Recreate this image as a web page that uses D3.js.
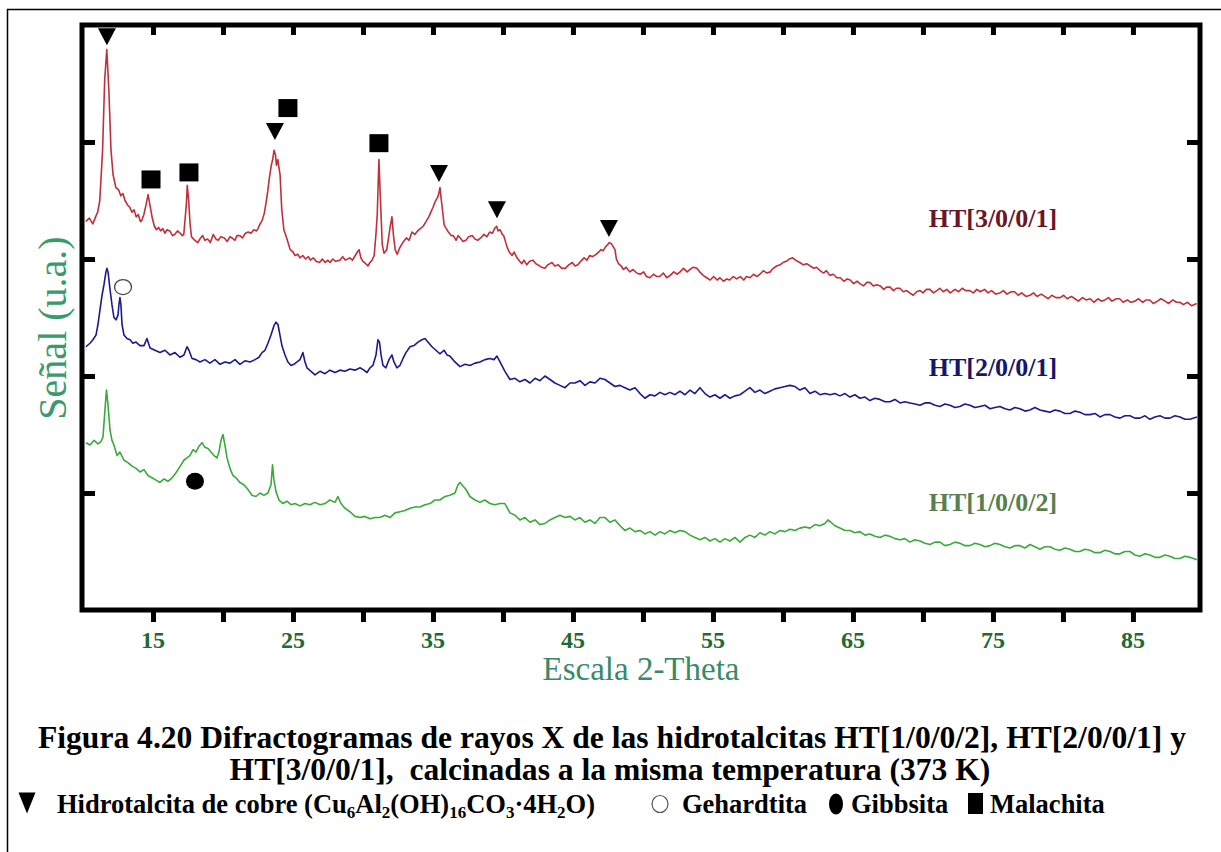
<!DOCTYPE html>
<html>
<head>
<meta charset="utf-8">
<script src="https://cdn.jsdelivr.net/npm/d3@7"></script>
<style>
  html, body { margin: 0; padding: 0; background: #fff; }
  svg { display: block; }
</style>
</head>
<body>
<svg id="chart" width="1221" height="852"></svg>
<script>
// ---- Diffractogram data: [2-theta (deg), intensity (a.u.)] ----
const ht3001 = [
  [10.2,332],[10.45,335],[10.7,330],[10.9,336],[11.05,340],[11.2,350],[11.4,393],[11.55,453],[11.7,479],[11.85,444],
  [12.0,393],[12.15,372],[12.35,361],[12.55,359],[12.7,354],[12.85,356],[13.0,350],[13.2,346],[13.35,344],[13.5,340],
  [13.65,342],[13.8,336],[13.95,338],[14.1,332],[14.2,333],[14.35,338],[14.5,346],[14.65,355],[14.8,345],[14.95,335],
  [15.1,328],[15.25,325],[15.4,327],[15.55,324],[15.7,326],[15.85,322],[16.0,325],[16.2,324],[16.4,320],[16.55,321],
  [16.75,324],[16.95,322],[17.1,320],[17.2,321],[17.3,335],[17.38,346],[17.45,363],[17.55,350],[17.65,330],[17.75,319],
  [17.9,317],[18.0,316],[18.2,314],[18.4,318],[18.55,320],[18.7,316],[18.9,317],[19.1,314],[19.3,321],[19.5,317],
  [19.65,316],[19.85,319],[20.1,318],[20.3,315],[20.5,319],[20.65,318],[20.85,316],[21.0,320],[21.2,320],[21.4,318],
  [21.6,322],[21.8,323],[22.0,322],[22.2,325],[22.4,324],[22.5,326],[22.65,330],[22.8,333],[22.95,339],[23.05,346],
  [23.2,358],[23.3,368],[23.45,380],[23.55,385],[23.65,393],[23.75,389],[23.82,380],[23.92,385],[24.0,378],[24.08,372],
  [24.2,342],[24.35,325],[24.55,318],[24.8,308],[25.0,306],[25.15,303],[25.35,304],[25.5,301],[25.7,303],[25.9,300],
  [26.1,302],[26.25,299],[26.45,301],[26.65,298],[26.9,297],[27.1,300],[27.3,297],[27.5,299],[27.65,297],[27.85,300],
  [28.05,298],[28.35,299],[28.55,302],[28.75,299],[29.05,301],[29.25,299],[29.45,303],[29.6,306],[29.72,308],[29.85,301],
  [30.0,298],[30.2,296],[30.35,294],[30.5,297],[30.65,299],[30.8,303],[30.92,320],[31.02,338],[31.14,385],[31.25,350],
  [31.38,312],[31.5,305],[31.7,308],[31.85,320],[31.95,328],[32.07,336],[32.18,320],[32.3,308],[32.45,304],[32.6,309],
  [32.75,312],[32.9,315],[33.1,318],[33.3,316],[33.5,323],[33.7,321],[33.9,324],[34.1,326],[34.3,328],[34.5,332],
  [34.7,336],[34.85,340],[35.0,344],[35.15,349],[35.3,352],[35.4,355],[35.5,361],[35.6,350],[35.68,342],[35.8,329],
  [35.95,326],[36.1,323],[36.3,320],[36.45,320],[36.65,316],[36.8,320],[36.95,318],[37.15,315],[37.35,316],[37.55,319],
  [37.8,320],[38.0,317],[38.2,316],[38.4,318],[38.65,321],[38.85,319],[39.05,323],[39.25,322],[39.4,326],[39.55,328],
  [39.65,324],[39.8,325],[39.95,321],[40.05,320],[40.2,314],[40.3,310],[40.45,306],[40.65,303],[40.8,306],[41.0,301],
  [41.2,298],[41.35,296],[41.5,299],[41.7,295],[41.9,298],[42.15,299],[42.35,296],[42.5,295],[42.75,293],[43.0,292],
  [43.2,295],[43.5,297],[43.7,294],[43.95,295],[44.2,292],[44.45,292],[44.7,295],[44.95,297],[45.15,294],[45.35,295],
  [45.55,298],[45.8,301],[46.0,299],[46.2,303],[46.4,302],[46.65,304],[46.85,306],[47.0,308],[47.15,307],[47.3,310],
  [47.45,312],[47.6,314],[47.75,313],[47.85,311],[48.0,308],[48.1,300],[48.25,296],[48.45,294],[48.6,291],[48.8,293],
  [49.05,289],[49.3,291],[49.55,288],[49.8,287],[50.05,289],[50.25,285],[50.5,284],[50.75,287],[51.0,285],[51.2,285],
  [51.45,288],[51.7,284],[51.95,286],[52.2,289],[52.45,287],[52.65,289],[52.9,292],[53.15,289],[53.35,291],[53.6,293],
  [53.85,292],[54.05,289],[54.3,286],[54.55,284],[54.8,282],[55.05,285],[55.3,282],[55.5,284],[55.75,281],[56.0,283],
  [56.2,282],[56.45,285],[56.7,283],[56.95,285],[57.2,282],[57.4,285],[57.65,284],[57.9,287],[58.15,285],[58.35,287],
  [58.6,290],[58.85,288],[59.1,289],[59.3,292],[59.55,294],[59.8,295],[60.0,297],[60.25,298],[60.45,300],[60.7,301],
  [60.9,299],[61.2,297],[61.45,295],[61.7,296],[61.95,294],[62.2,292],[62.4,293],[62.65,290],[62.9,288],[63.1,290],
  [63.35,286],[63.6,287],[63.85,284],[64.1,284],[64.35,281],[64.6,283],[64.8,282],[65.05,279],[65.3,281],[65.5,279],
  [65.75,277],[66.0,280],[66.2,280],[66.45,277],[66.7,278],[66.95,277],[67.2,274],[67.4,276],[67.65,276],[67.9,273],
  [68.1,275],[68.35,275],[68.6,272],[68.85,273],[69.05,271],[69.3,269],[69.55,272],[69.8,273],[70.0,271],[70.25,274],
  [70.5,274],[70.75,271],[71.0,273],[71.2,275],[71.45,272],[71.7,274],[71.95,271],[72.3,274],[72.55,272],[72.8,275],
  [73.05,273],[73.35,273],[73.6,271],[73.85,274],[74.1,272],[74.4,274],[74.65,271],[74.9,273],[75.2,270],[75.5,271],
  [75.75,273],[76.0,270],[76.3,272],[76.55,272],[76.8,269],[77.05,271],[77.35,268],[77.65,269],[77.9,271],[78.15,268],
  [78.45,270],[78.7,268],[78.95,266],[79.2,269],[79.5,267],[79.8,267],[80.05,269],[80.3,266],[80.6,268],[80.85,266],
  [81.1,264],[81.4,267],[81.65,265],[81.95,266],[82.2,263],[82.5,266],[82.75,264],[83.0,265],[83.25,267],[83.5,264],
  [83.8,266],[84.05,266],[84.3,263],[84.6,265],[84.85,263],[85.15,264],[85.4,266],[85.7,263],[85.95,265],[86.2,265],
  [86.45,262],[86.75,264],[87.0,266],[87.3,264],[87.55,262],[87.85,265],[88.1,263],[88.35,263],[88.6,261],[88.9,263],
  [89.2,260],[89.55,262]
];

const ht2001 = [
  [10.21,225],[10.5,228],[10.71,231],[10.93,235],[11.07,244],[11.21,256],[11.36,269],[11.5,278],[11.64,289],[11.71,292],
  [11.79,289],[11.93,274],[12.07,261],[12.21,250],[12.36,248],[12.5,252],[12.57,261],[12.64,267],[12.71,261],[12.79,244],
  [12.93,235],[13.14,232],[13.36,231],[13.57,228],[13.79,229],[14.07,226],[14.36,226],[14.57,232],[14.79,224],[15.14,222],
  [15.5,220],[15.86,222],[16.21,218],[16.57,220],[16.93,216],[17.21,218],[17.43,225],[17.57,222],[17.79,215],[18.07,214],
  [18.36,212],[18.71,214],[19.07,211],[19.43,214],[19.79,210],[20.14,212],[20.5,211],[20.86,214],[21.21,210],[21.57,213],
  [21.93,212],[22.29,214],[22.57,216],[22.79,220],[23.0,222],[23.21,228],[23.43,235],[23.64,243],[23.79,246],[23.93,244],
  [24.07,235],[24.21,226],[24.43,218],[24.64,212],[24.86,209],[25.07,210],[25.29,212],[25.5,214],[25.64,218],[25.71,220],
  [25.86,212],[26.0,207],[26.29,204],[26.57,201],[26.93,204],[27.29,202],[27.64,205],[28.0,203],[28.36,205],[28.71,204],
  [29.07,206],[29.43,205],[29.79,207],[30.07,205],[30.29,203],[30.5,207],[30.71,209],[30.93,218],[31.07,231],[31.18,229],
  [31.29,218],[31.43,209],[31.64,207],[31.86,214],[32.07,218],[32.21,212],[32.43,207],[32.64,209],[32.86,215],[33.07,220],
  [33.36,225],[33.64,226],[33.93,229],[34.21,231],[34.43,232],[34.64,229],[34.93,225],[35.21,222],[35.5,219],[35.79,222],
  [36.0,218],[36.21,217],[36.57,212],[36.93,208],[37.29,210],[37.64,209],[38.0,211],[38.36,212],[38.71,214],[39.07,215],
  [39.36,214],[39.57,217],[39.79,212],[40.14,204],[40.5,197],[40.86,198],[41.21,195],[41.57,197],[41.93,194],[42.29,198],
  [42.64,196],[43.0,200],[43.36,197],[43.71,194],[44.07,192],[44.43,190],[44.79,194],[45.14,194],[45.5,196],[45.86,192],
  [46.21,195],[46.57,194],[46.93,198],[47.29,197],[47.64,194],[48.0,191],[48.36,192],[48.71,190],[49.07,188],[49.43,190],
  [49.79,185],[50.14,181],[50.5,184],[50.86,183],[51.21,186],[51.57,184],[51.93,186],[52.29,184],[52.64,187],[53.0,184],
  [53.36,188],[53.71,185],[54.07,190],[54.43,185],[54.79,182],[55.14,184],[55.5,181],[55.86,184],[56.21,181],[56.57,183],
  [56.93,184],[57.29,187],[57.64,190],[58.0,186],[58.36,188],[58.71,185],[59.07,187],[59.43,189],[59.79,190],[60.14,191],
  [60.5,192],[60.86,191],[61.21,188],[61.57,190],[61.93,185],[62.29,187],[62.64,184],[63.0,185],[63.36,184],[63.71,185],
  [64.07,183],[64.43,185],[64.79,182],[65.14,184],[65.5,181],[65.86,182],[66.21,179],[66.57,181],[66.93,180],[67.29,178],
  [67.64,178],[68.0,180],[68.36,177],[68.71,178],[69.07,177],[69.43,176],[69.79,175],[70.14,177],[70.5,177],[70.86,175],
  [71.21,174],[71.57,176],[71.93,175],[72.29,173],[72.64,174],[73.0,176],[73.36,175],[73.71,173],[74.07,174],[74.43,175],
  [74.79,172],[75.14,173],[75.5,174],[75.86,172],[76.21,171],[76.57,173],[76.93,172],[77.29,170],[77.64,171],[78.0,173],
  [78.36,171],[78.71,170],[79.07,169],[79.43,171],[79.79,170],[80.14,168],[80.5,168],[80.86,170],[81.21,169],[81.57,167],
  [81.93,167],[82.29,168],[82.64,165],[83.0,167],[83.36,167],[83.71,165],[84.07,164],[84.43,166],[84.79,166],[85.14,164],
  [85.5,164],[85.86,166],[86.21,163],[86.57,165],[86.93,166],[87.29,164],[87.64,164],[88.0,166],[88.36,165],[88.71,163],
  [89.07,163],[89.57,165]
];

const ht1002 = [
  [10.21,143],[10.5,141],[10.79,145],[11.07,142],[11.29,144],[11.43,148],[11.57,171],[11.68,188],[11.79,175],[11.93,154],
  [12.07,145],[12.21,141],[12.43,132],[12.64,135],[12.93,128],[13.21,126],[13.5,123],[13.79,121],[14.07,118],[14.36,120],
  [14.64,115],[14.93,113],[15.21,111],[15.5,109],[15.79,112],[16.07,110],[16.36,113],[16.57,116],[16.79,120],[17.0,124],
  [17.21,128],[17.43,130],[17.64,132],[17.86,137],[18.07,135],[18.29,140],[18.5,143],[18.71,139],[18.93,138],[19.14,135],
  [19.36,132],[19.57,130],[19.71,135],[19.86,145],[20.0,150],[20.14,141],[20.29,130],[20.5,121],[20.71,115],[20.93,113],
  [21.21,109],[21.5,107],[21.79,103],[22.07,98],[22.36,97],[22.64,100],[22.93,98],[23.21,100],[23.43,107],[23.54,124],
  [23.64,111],[23.79,101],[24.0,94],[24.29,91],[24.57,93],[24.86,90],[25.14,91],[25.5,89],[25.86,91],[26.21,90],
  [26.57,92],[26.93,90],[27.29,91],[27.64,94],[28.0,92],[28.21,97],[28.43,91],[28.71,87],[29.07,84],[29.43,80],
  [29.79,79],[30.14,80],[30.5,78],[30.86,79],[31.21,79],[31.57,81],[31.93,79],[32.29,83],[32.64,84],[33.0,85],
  [33.36,87],[33.71,88],[34.07,88],[34.43,90],[34.79,91],[35.14,94],[35.5,94],[35.86,97],[36.21,98],[36.57,100],
  [36.79,107],[36.93,109],[37.14,106],[37.36,103],[37.64,97],[38.0,94],[38.36,92],[38.71,94],[39.07,91],[39.43,90],
  [39.79,91],[40.14,91],[40.5,83],[40.86,81],[41.21,77],[41.57,79],[41.93,75],[42.29,77],[42.64,73],[43.0,74],
  [43.36,77],[43.71,79],[44.07,81],[44.43,79],[44.79,80],[45.14,77],[45.5,79],[45.86,75],[46.21,77],[46.57,74],
  [46.93,79],[47.29,79],[47.64,75],[48.0,77],[48.36,72],[48.71,68],[49.07,70],[49.43,67],[49.79,68],[50.14,65],
  [50.5,67],[50.86,64],[51.21,67],[51.57,65],[51.93,68],[52.29,66],[52.64,68],[53.0,67],[53.36,64],[53.71,62],
  [54.07,60],[54.43,62],[54.79,59],[55.14,61],[55.5,58],[55.86,61],[56.21,59],[56.57,62],[56.93,58],[57.29,62],
  [57.64,64],[58.0,62],[58.36,66],[58.71,64],[59.07,67],[59.43,65],[59.79,68],[60.14,67],[60.5,69],[60.86,68],
  [61.21,70],[61.57,71],[61.93,70],[62.29,73],[62.64,72],[63.0,74],[63.21,77],[63.43,75],[63.71,72],[64.07,70],
  [64.43,68],[64.79,68],[65.14,66],[65.5,67],[65.86,64],[66.21,65],[66.57,63],[66.93,62],[67.29,64],[67.64,63],
  [68.0,61],[68.36,60],[68.71,61],[69.07,58],[69.43,60],[69.79,59],[70.14,57],[70.5,56],[70.86,58],[71.21,58],
  [71.57,55],[71.93,56],[72.29,58],[72.64,57],[73.0,55],[73.36,55],[73.71,57],[74.07,56],[74.43,54],[74.79,55],
  [75.14,57],[75.5,56],[75.86,54],[76.21,53],[76.57,55],[76.93,55],[77.29,53],[77.64,56],[78.0,54],[78.36,52],
  [78.71,54],[79.07,54],[79.43,52],[79.79,51],[80.14,53],[80.5,52],[80.86,50],[81.21,50],[81.57,52],[81.93,51],
  [82.29,49],[82.64,49],[83.0,51],[83.36,50],[83.71,48],[84.07,48],[84.43,50],[84.79,50],[85.14,47],[85.5,46],
  [85.86,48],[86.21,47],[86.57,45],[86.93,45],[87.29,47],[87.64,46],[88.0,44],[88.36,44],[88.71,46],[89.07,45],
  [89.57,43]
];

// ---- Phase assignments: [2-theta, marker height (a.u.)] ----
const hidrotalcitaMarks = [[11.71,490],[23.71,409],[35.43,373],[39.57,342],[47.57,326]];
const malachitaMarks    = [[14.86,368],[17.57,374],[24.64,429],[31.14,399]];
const gehardtitaMarks   = [[12.86,276]];
const gibbsitaMarks     = [[18.0,110]];

// ---- Axis ticks ----
const xTicks = [15,20,25,30,35,40,45,50,55,60,65,70,75,80,85];
const xTickLabels = [15,25,35,45,55,65,75,85];
const yTicks = [100,200,300,400];

// ---- Series ----
const seriesNames  = ["HT[3/0/0/1]", "HT[2/0/0/1]", "HT[1/0/0/2]"];
const seriesData   = [ht3001, ht2001, ht1002];
const lineColors   = ["#c0303a", "#1c1a8c", "#3aaa3a"];
const labelColors  = ["#6b1626", "#16166c", "#5a7f4e"];
const labelAnchors = [[75, 327], [75, 200], [75, 85]];

// ---- Layout ----
const W = 1221, H = 852;
const box = { left: 82, right: 1200, top: 25, bottom: 610 };
const serif = "'Liberation Serif', 'Times New Roman', Times, serif";

const svg = d3.select("#chart");
svg.append("rect").attr("width", W).attr("height", H).attr("fill", "#fff");

// page frame (left and top rules)
svg.append("path")
  .attr("d", `M7.5,${H} V9.5 H${W}`)
  .attr("fill", "none").attr("stroke", "#000").attr("stroke-width", 1.5);

const x = d3.scaleLinear().domain([9.93, 89.79]).range([box.left, box.right]);
const y = d3.scaleLinear().domain([0, 500]).range([box.bottom, box.top]);

svg.append("clipPath").attr("id", "plotClip")
  .append("rect")
  .attr("x", box.left + 2).attr("y", box.top + 2)
  .attr("width", box.right - box.left - 4).attr("height", box.bottom - box.top - 4);

// traces
const line = d3.line().x(d => x(d[0])).y(d => y(d[1]));
const traces = svg.append("g").attr("clip-path", "url(#plotClip)");
seriesData.forEach((data, i) => {
  traces.append("path")
    .datum(data)
    .attr("d", line)
    .attr("fill", "none")
    .attr("stroke", lineColors[i])
    .attr("stroke-width", 1.6)
    .attr("stroke-linejoin", "round");
});

// axes: bottom ticks outward, top/left/right ticks inward
const tickStyle = g => g.call(s => s.select(".domain").remove())
  .call(s => s.selectAll(".tick line").attr("stroke", "#000").attr("stroke-width", 5));

svg.append("g")
  .attr("transform", `translate(0,${box.bottom})`)
  .call(d3.axisBottom(x).tickValues(xTicks).tickSize(12).tickFormat(""))
  .call(tickStyle);

svg.append("g")
  .attr("transform", `translate(0,${box.top})`)
  .call(d3.axisBottom(x).tickValues(xTicks).tickSize(10).tickFormat(""))
  .call(tickStyle);

svg.append("g")
  .attr("transform", `translate(${box.left},0)`)
  .call(d3.axisRight(y).tickValues(yTicks).tickSize(13).tickFormat(""))
  .call(tickStyle);

svg.append("g")
  .attr("transform", `translate(${box.right},0)`)
  .call(d3.axisLeft(y).tickValues(yTicks).tickSize(13).tickFormat(""))
  .call(tickStyle);

// plot frame
svg.append("rect")
  .attr("x", box.left).attr("y", box.top)
  .attr("width", box.right - box.left).attr("height", box.bottom - box.top)
  .attr("fill", "none").attr("stroke", "#000").attr("stroke-width", 5);

// x tick labels
svg.append("g").selectAll("text")
  .data(xTickLabels).join("text")
  .attr("x", d => x(d)).attr("y", 648)
  .attr("text-anchor", "middle")
  .attr("font-family", serif).attr("font-weight", "bold").attr("font-size", 24)
  .attr("fill", "#1f6a35")
  .text(d => d);

// axis titles
svg.append("text")
  .attr("x", 641).attr("y", 680)
  .attr("text-anchor", "middle")
  .attr("font-family", serif).attr("font-size", 33)
  .attr("fill", "#3a8a68")
  .text("Escala 2-Theta");

svg.append("text")
  .attr("transform", "translate(66,328) rotate(-90)")
  .attr("text-anchor", "middle")
  .attr("font-family", serif).attr("font-size", 40)
  .attr("fill", "#3b9a6b")
  .text("Señal (u.a.)");

// series labels
svg.append("g").selectAll("text")
  .data(seriesNames).join("text")
  .attr("x", (d, i) => x(labelAnchors[i][0]))
  .attr("y", (d, i) => y(labelAnchors[i][1]))
  .attr("text-anchor", "middle")
  .attr("font-family", serif).attr("font-weight", "bold").attr("font-size", 26)
  .attr("fill", (d, i) => labelColors[i])
  .text(d => d);

// phase markers
const marks = svg.append("g");
const triPath = (w, h) => `M${-w/2},${-h/2} L${w/2},${-h/2} L0,${h/2} Z`;
marks.selectAll("path.tri").data(hidrotalcitaMarks).join("path")
  .attr("class", "tri")
  .attr("transform", d => `translate(${x(d[0])},${y(d[1])})`)
  .attr("d", triPath(18, 17)).attr("fill", "#000");
marks.selectAll("rect.sq").data(malachitaMarks).join("rect")
  .attr("class", "sq")
  .attr("x", d => x(d[0]) - 9.5).attr("y", d => y(d[1]) - 9)
  .attr("width", 19).attr("height", 18).attr("fill", "#000");
marks.selectAll("ellipse.open").data(gehardtitaMarks).join("ellipse")
  .attr("class", "open")
  .attr("cx", d => x(d[0])).attr("cy", d => y(d[1]))
  .attr("rx", 8.5).attr("ry", 7.5)
  .attr("fill", "#fff").attr("stroke", "#444").attr("stroke-width", 1.3);
marks.selectAll("ellipse.filled").data(gibbsitaMarks).join("ellipse")
  .attr("class", "filled")
  .attr("cx", d => x(d[0])).attr("cy", d => y(d[1]))
  .attr("rx", 9).attr("ry", 8.5).attr("fill", "#000");

// caption
const caption = svg.append("g")
  .attr("font-family", serif).attr("font-weight", "bold").attr("font-size", 31.6)
  .attr("fill", "#000").attr("text-anchor", "middle");
caption.append("text").attr("x", 612).attr("y", 748)
  .text("Figura 4.20 Difractogramas de rayos X de las hidrotalcitas HT[1/0/0/2], HT[2/0/0/1] y");
caption.append("text").attr("x", 610).attr("y", 780).attr("xml:space", "preserve")
  .text("HT[3/0/0/1],  calcinadas a la misma temperatura (373 K)");

// phase legend
const legend = svg.append("g")
  .attr("font-family", serif).attr("font-weight", "bold").attr("font-size", 26.5).attr("fill", "#000");
legend.append("path").attr("transform", "translate(27,803)").attr("d", triPath(17, 21)).attr("fill", "#000");

// formula with subscripts: [text, isSubscript]
const formulaParts = [
  ["Hidrotalcita de cobre (Cu", false], ["6", true], ["Al", false], ["2", true],
  ["(OH)", false], ["16", true], ["CO", false], ["3", true], ["·4H", false], ["2", true], ["O)", false]
];
const t1 = legend.append("text").attr("x", 57).attr("y", 813);
let shifted = false;
formulaParts.forEach(([s, isSub]) => {
  const ts = t1.append("tspan").text(s);
  if (isSub) { ts.attr("font-size", 17).attr("dy", shifted ? 0 : 5); shifted = true; }
  else { ts.attr("dy", shifted ? -5 : 0); shifted = false; }
});

legend.append("ellipse").attr("cx", 660).attr("cy", 804).attr("rx", 8).attr("ry", 8.5)
  .attr("fill", "#fff").attr("stroke", "#555").attr("stroke-width", 1.2);
legend.append("text").attr("x", 682).attr("y", 813).text("Gehardtita");
legend.append("ellipse").attr("cx", 836).attr("cy", 804).attr("rx", 7).attr("ry", 10.5).attr("fill", "#000");
legend.append("text").attr("x", 851).attr("y", 813).text("Gibbsita");
legend.append("rect").attr("x", 968).attr("y", 793).attr("width", 15).attr("height", 21).attr("fill", "#000");
legend.append("text").attr("x", 990).attr("y", 813).text("Malachita");
</script>
</body>
</html>
